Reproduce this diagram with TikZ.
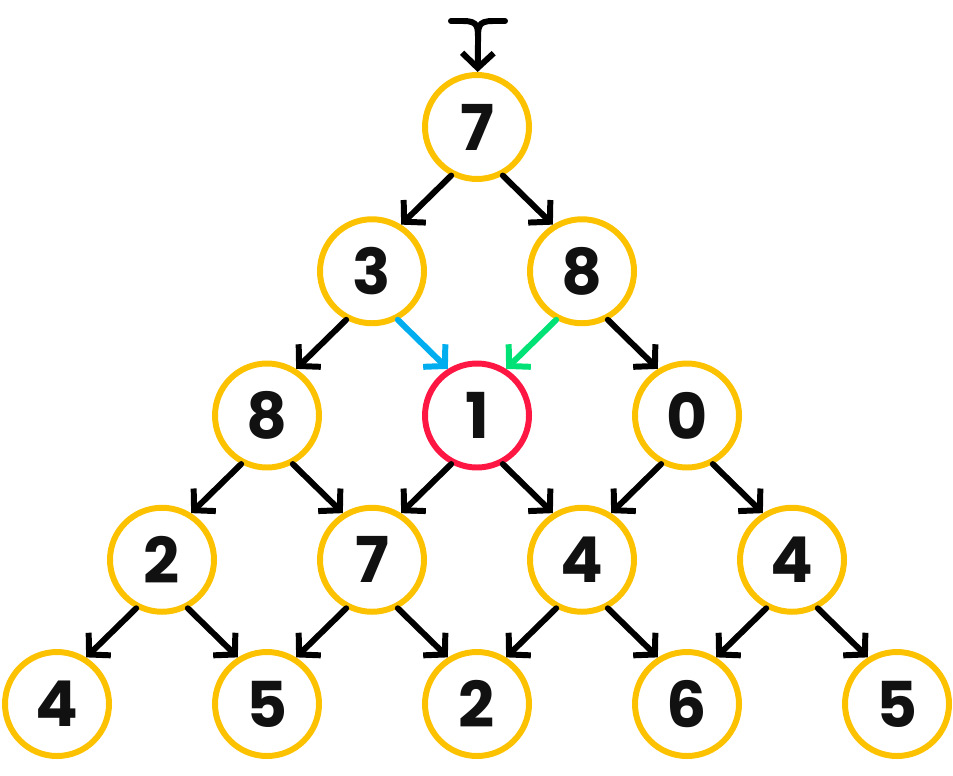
\documentclass[tikz,border=0pt]{standalone}
\usepackage{fontspec}
\setmainfont{Poppins}
\usepackage{xcolor}
\usetikzlibrary{arrows.meta,calc}
\definecolor{ringyellow}{RGB}{252,194,0}
\definecolor{ringred}{RGB}{255,23,68}
\definecolor{pathblue}{RGB}{0,174,239}
\definecolor{pathgreen}{RGB}{0,226,118}
\definecolor{inkdark}{RGB}{17,17,17}

\begin{document}
\begin{tikzpicture}[>={Straight Barb[length=8.5pt,width=18pt]},
  num/.style={circle, draw=ringyellow, line width=3.4pt, minimum size=2.08cm, inner sep=0pt,
    text=inkdark, font=\fontsize{36}{40}\selectfont\bfseries},
  hot/.style={num, draw=ringred},
  link/.style={->, line width=3.4pt, line cap=round, line join=round}]
\useasboundingbox (0,0) rectangle (19.06,-15.5);
% triangle of numbers
\foreach \r/\c/\v in {0/0/7, 1/0/3, 1/1/8, 2/0/8, 2/2/0, 3/0/2, 3/1/7, 3/2/4, 3/3/4,
  4/0/4, 4/1/5, 4/2/2, 4/3/6, 4/4/5}
  \node[num] (n\r\c) at ({9.54+(2*\c-\r)*2.1},{-2.54-\r*2.885}) {\v};
\node[hot] (n21) at (9.54,{-2.54-2*2.885}) {1};
% entry
\coordinate (feed) at (9.56,-0.86);
\draw[line width=3.4pt, line cap=round] (feed) .. controls +(0,0.32) and +(0.32,0) .. ++(-0.3,0.44) -- ++(-0.24,0);
\draw[line width=3.4pt, line cap=round] (feed) .. controls +(0,0.32) and +(-0.32,0) .. ++(0.3,0.44) -- ++(0.24,0);
\draw[link] (feed) -- (n00);
% moves down-left and down-right
\foreach \a/\b in {00/10, 10/20, 20/30, 21/31, 22/32, 30/40, 31/41, 32/42, 33/43}
  \draw[link] (n\a.242) -- (n\b.58);
\foreach \a/\b in {00/11, 11/22, 20/31, 21/32, 22/33, 30/41, 31/42, 32/43, 33/44}
  \draw[link] (n\a.298) -- (n\b.122);
\draw[link, pathblue] (n10.298) -- (n21.122);
\draw[link, pathgreen] (n11.242) -- (n21.58);
\end{tikzpicture}
\end{document}
